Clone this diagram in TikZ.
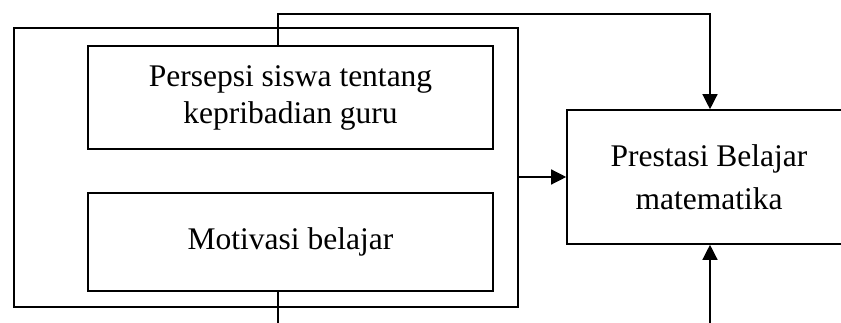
\documentclass[tikz,border=0pt]{standalone}
\usepackage{fontspec}
\setmainfont{Liberation Serif}
\usetikzlibrary{arrows.meta}
\begin{document}
\begin{tikzpicture}[x=1pt,y=-1pt,
  box/.style={draw,line width=1.6pt,align=center,inner sep=0pt},
  conn/.style={line width=1.3pt},
  arr/.style={conn,-{Triangle[width=15pt,length=15pt]}}]
\useasboundingbox (0,0) rectangle (841,323);
\node[box,minimum width=504pt,minimum height=279pt] (outer) at (266,167.5) {};
\node[box,minimum width=405pt,minimum height=103pt,font=\fontsize{31.5}{37}\selectfont] (box1) at (290.5,97.5) {Persepsi siswa tentang\\kepribadian guru};
\node[box,minimum width=405pt,minimum height=98pt,font=\fontsize{31.5}{37}\selectfont] (box2) at (290.5,242) {Motivasi belajar};
\node[box,minimum width=284pt,minimum height=134pt,font=\fontsize{31.5}{43}\selectfont] (right) at (709,177) {Prestasi Belajar\\matematika};
\coordinate (a) at (278,14);
\coordinate (b) at (710,14);
\coordinate (c) at (278,323);
\coordinate (d) at (710,323);
\draw[arr] (box1.north -| a) -- (a) -- (b) -- (right.north -| b);
\draw[arr] (outer.east |- right.west) -- (right.west);
\draw[conn] (box2.south -| c) -- (c);
\draw[arr] (d) -- (right.south -| d);
\end{tikzpicture}
\end{document}
